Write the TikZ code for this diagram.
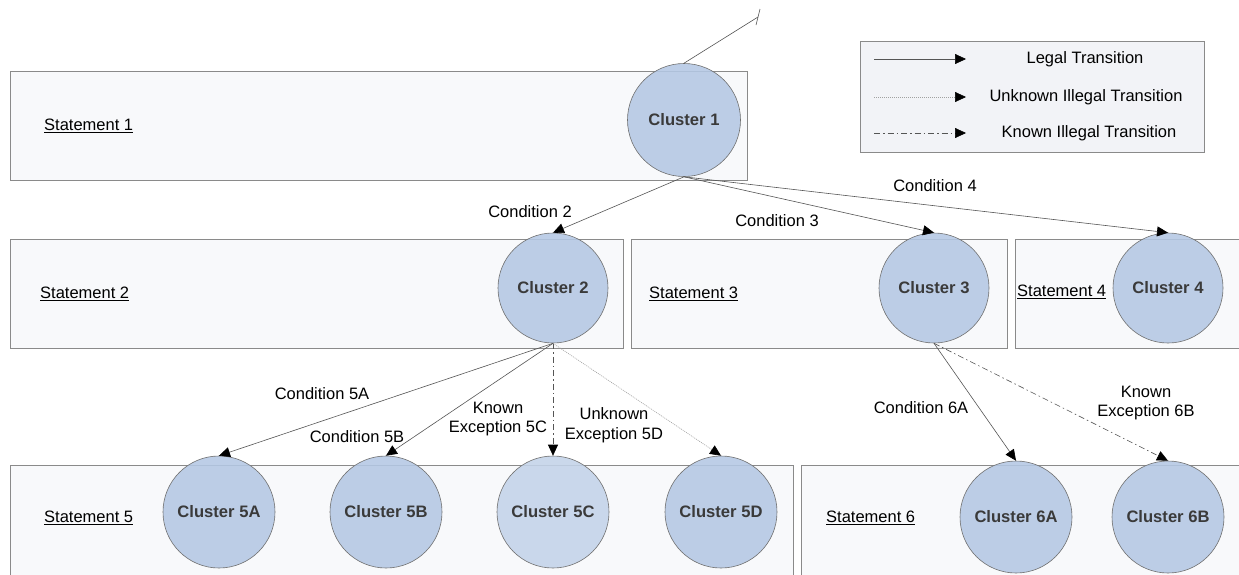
\documentclass[tikz,border=0pt]{standalone}
\usepackage{fontspec}
\setmainfont{Liberation Sans}
\usetikzlibrary{arrows.meta}
\definecolor{boxfill}{HTML}{F8F9FB}
\definecolor{legfill}{HTML}{F2F3F7}
\definecolor{boxline}{HTML}{8A8A8A}
\definecolor{cfill}{HTML}{B4C8E4}
\definecolor{cline}{HTML}{707070}
\definecolor{ctext}{HTML}{3A3A3A}
\definecolor{arr}{HTML}{555555}
\tikzset{
  stbox/.style={draw=boxline, fill=boxfill, line width=0.7pt, anchor=north west, inner sep=0pt},
  clus/.style={circle, draw=cline, fill=cfill, fill opacity=0.88, text opacity=1, line width=0.6pt,
    font=\fontsize{16.6}{19}\selectfont\bfseries, text=ctext, inner sep=0pt},
  lbl/.style={font=\fontsize{16.5}{19.5}\selectfont, text=black, inner sep=0pt, align=center},
  stlbl/.style={font=\fontsize{16.5}{19.5}\selectfont, text=black, inner sep=0pt, anchor=west},
  tip/.style={-{Triangle[length=11pt,width=10pt,color=black,fill=black]}},
  legal/.style={draw=arr, line width=0.6pt, tip},
  unknown/.style={draw=arr!55, line width=0.6pt, dash pattern=on 1pt off 1pt, tip},
  known/.style={draw=arr, line width=0.6pt, dash pattern=on 6pt off 3pt on 1.5pt off 3pt, tip},
}
\begin{document}
\begin{tikzpicture}[x=1pt,y=-1pt]
\useasboundingbox (0,0) rectangle (1239,574);
\fill[white] (0,0) rectangle (1239,574);
% statement boxes
\node[stbox, minimum width=737pt, minimum height=109pt] (s1) at (10,71) {};
\node[stbox, minimum width=613pt, minimum height=109pt] (s2) at (10,239) {};
\node[stbox, minimum width=376pt, minimum height=109pt] (s3) at (631,239) {};
\node[stbox, minimum width=235pt, minimum height=109pt] (s4) at (1015,239) {};
\node[stbox, minimum width=783pt, minimum height=120pt] (s5) at (10,465) {};
\node[stbox, minimum width=445pt, minimum height=120pt] (s6) at (801,465) {};
% legend box
\node[stbox, draw=boxline, fill=legfill, minimum width=344pt, minimum height=111pt] (leg) at (860,41) {};
% statement labels
\node[stlbl] (t1) at (44,126) {\underline{Statement 1}};
\node[stlbl] (t2) at (40,294) {\underline{Statement 2}};
\node[stlbl] (t3) at (649,294) {\underline{Statement 3}};
\node[stlbl] (t4) at (1017,292) {\underline{Statement 4}};
\node[stlbl] (t5) at (44,518) {\underline{Statement 5}};
\node[stlbl] (t6) at (826,518) {\underline{Statement 6}};
% clusters
\node[clus, minimum size=113pt] (c1) at (684,120) {Cluster 1};
\node[clus, minimum size=110pt] (c2) at (553,288) {Cluster 2};
\node[clus, minimum size=110pt] (c3) at (934,288) {Cluster 3};
\node[clus, minimum size=110pt] (c4) at (1168,288) {Cluster 4};
\node[clus, minimum size=112pt] (c5a) at (219,512) {Cluster 5A};
\node[clus, minimum size=112pt] (c5b) at (386,512) {Cluster 5B};
\node[clus, minimum size=112pt, fill=cfill!80!white] (c5c) at (553,512) {Cluster 5C};
\node[clus, minimum size=112pt] (c5d) at (721,512) {Cluster 5D};
\node[clus, minimum size=112pt] (c6a) at (1016,517) {Cluster 6A};
\node[clus, minimum size=112pt] (c6b) at (1168,517) {Cluster 6B};
% top cut-off line
\coordinate (tp) at (758,17);
\coordinate (tka) at (760,9);
\coordinate (tkb) at (756,25);
\draw[draw=arr, line width=0.6pt] (c1.north) -- (tp);
\draw[draw=arr, line width=0.6pt] (tka) -- (tkb);
% transitions
\draw[legal] (c1.south) -- (c2.north);
\draw[legal] (c1.south) -- (c3.north);
\draw[legal] (c1.south) -- (c4.north);
\draw[legal] (c2.south) -- (c5a.north);
\draw[legal] (c2.south) -- (c5b.north);
\draw[known] (c2.south) -- (c5c.north);
\draw[unknown] (c2.south) -- (c5d.north);
\draw[legal] (c3.south) -- (c6a.north);
\draw[known] (c3.south) -- (c6b.north);
% transition labels
\node[lbl] (l2) at (530,212) {Condition 2};
\node[lbl] (l3) at (777,221) {Condition 3};
\node[lbl] (l4) at (935,186) {Condition 4};
\node[lbl] (l5a) at (322,394) {Condition 5A};
\node[lbl] (l5b) at (357,437) {Condition 5B};
\node[lbl] (l5c) at (498,419) {Known\\Exception 5C};
\node[lbl] (l5d) at (614,425) {Unknown\\Exception 5D};
\node[lbl] (l6a) at (921,408) {Condition 6A};
\node[lbl] (l6b) at (1146,403) {Known\\Exception 6B};
% legend
\coordinate (la1) at (874,59);  \coordinate (lb1) at (966,59);
\coordinate (la2) at (874,97);  \coordinate (lb2) at (966,97);
\coordinate (la3) at (874,133); \coordinate (lb3) at (966,133);
\draw[legal] (la1) -- (lb1);
\draw[unknown] (la2) -- (lb2);
\draw[known] (la3) -- (lb3);
\node[lbl] (g1) at (1085,59) {Legal Transition};
\node[lbl] (g2) at (1086,97) {Unknown Illegal Transition};
\node[lbl] (g3) at (1089,133) {Known Illegal Transition};
\end{tikzpicture}
\end{document}
